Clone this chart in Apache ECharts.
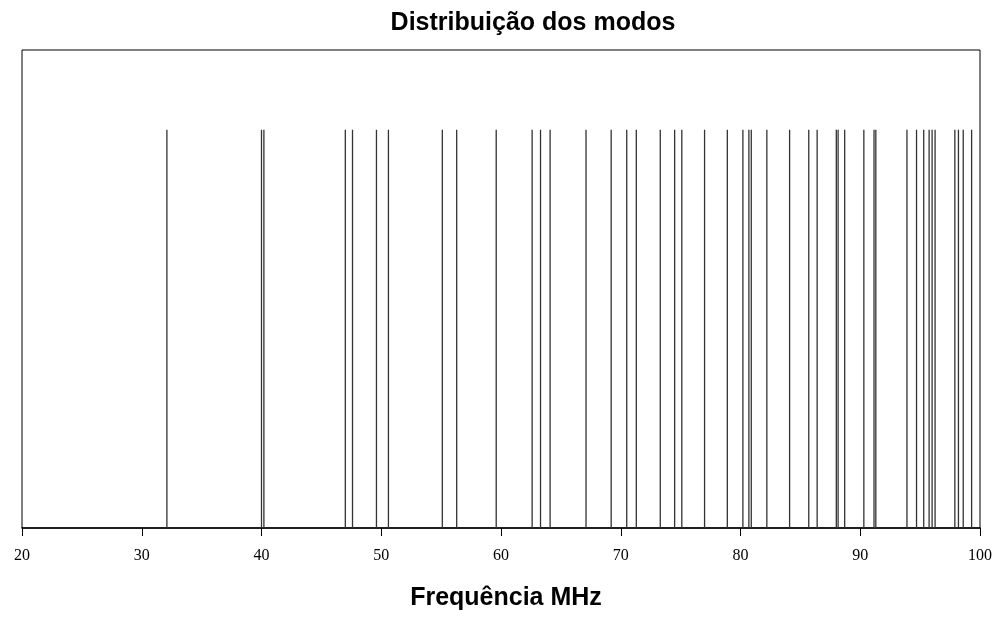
<!DOCTYPE html>
<html><head><meta charset="utf-8">
<script src="https://cdn.jsdelivr.net/npm/echarts@6/dist/echarts.min.js"></script>
<style>html,body{margin:0;padding:0;background:#fff}#c{width:1000px;height:617px}</style>
</head><body><div id="c"></div>
<script>
const title = "Distribuição dos modos";
const xAxisName = "Frequência MHz";
const xTicks = [20, 30, 40, 50, 60, 70, 80, 90, 100];
const modeFrequencies = [32.1, 40.0, 40.2, 47.0, 47.6, 49.6, 50.6, 55.1, 56.3, 59.6,
  62.6, 63.3, 64.1, 67.1, 69.2, 70.5, 71.3, 73.3, 74.5, 75.1, 77.0, 78.9,
  80.2, 80.7, 80.9, 82.2, 84.1, 85.7, 86.4, 88.0, 88.15, 88.7, 90.3, 91.15, 91.3,
  93.9, 94.7, 95.3, 95.75, 96.0, 96.25, 97.9, 98.2, 98.6, 99.3];
const modeHeight = 1;

const chart = echarts.init(document.getElementById('c'));
chart.setOption({
  animation: false,
  backgroundColor: '#fff',
  title: { text: title, left: 528, top: 6, textAlign: 'center',
    textStyle: { fontFamily: 'Liberation Sans', fontWeight: 'bold', fontSize: 25, color: '#000' } },
  grid: { left: 22, right: 20, top: 50, bottom: 89, show: true, borderColor: '#000', borderWidth: 1, backgroundColor: 'transparent' },
  xAxis: {
    type: 'value', min: xTicks[0], max: xTicks[xTicks.length-1], interval: 10,
    name: xAxisName, nameLocation: 'middle', nameGap: 58,
    nameTextStyle: { fontFamily: 'Liberation Sans', fontWeight: 'bold', fontSize: 25, color: '#000', padding: [0, 0, 0, 10] },
    axisLine: { lineStyle: { color: '#000', width: 1.5 } },
    axisTick: { show: true, inside: false, length: 8, lineStyle: { color: '#000' } },
    axisLabel: { fontFamily: 'Liberation Serif', fontSize: 16, color: '#000', margin: 20 },
    splitLine: { show: false }
  },
  yAxis: { type: 'value', min: 0, max: 1.2, show: false },
  series: [{
    type: 'custom',
    data: modeFrequencies.map(f => [f, modeHeight]),
    encode: { x: 0, y: 1 },
    renderItem: function (params, api) {
      const p0 = api.coord([api.value(0), 0]);
      const p1 = api.coord([api.value(0), api.value(1)]);
      return { type: 'line', shape: { x1: p0[0], y1: p0[1], x2: p1[0], y2: p1[1] },
        style: { stroke: '#333', lineWidth: 1.3 } };
    }
  }]
});
</script></body></html>
